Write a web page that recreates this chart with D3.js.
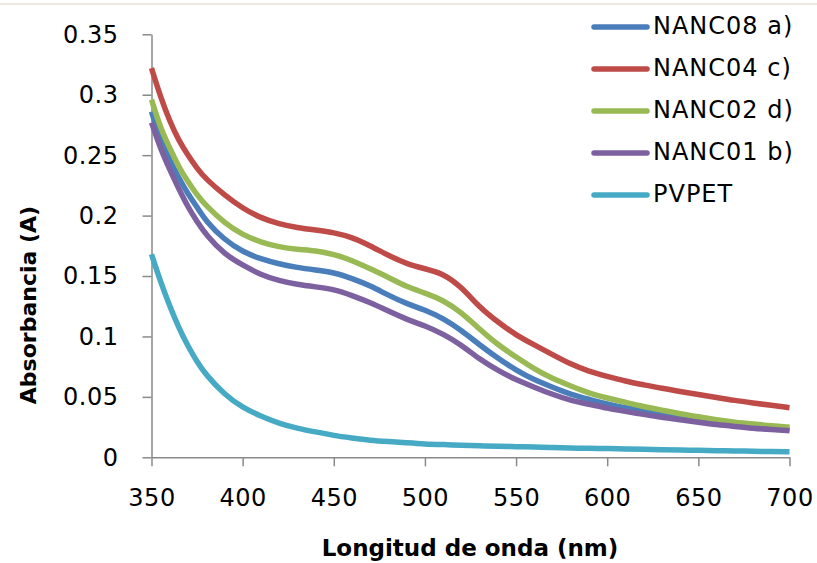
<!DOCTYPE html>
<html>
<head>
<meta charset="utf-8">
<script src="https://cdn.jsdelivr.net/npm/d3@7/dist/d3.min.js"></script>
<style>
  html, body { margin: 0; padding: 0; background: #fff; }
  svg { display: block; }
  text { font-family: "DejaVu Sans", Verdana, sans-serif; fill: #000; }
</style>
</head>
<body>
<svg id="chart" width="817" height="563"></svg>
<script>
const wavelengths = [350,355,360,365,370,375,380,390,400,410,420,430,440,450,460,470,480,490,500,510,520,530,540,550,560,570,580,590,600,610,620,630,640,650,660,670,680,690,700];

const nanc08 = [.286,.262,.246,.231,.218,.207,.195,.180,.170,.164,.160,.157,.155,.153,.148,.142,.134,.127,.122,.115,.105,.093,.082,.072,.064,.058,.052,.048,.044,.041,.038,.0355,.033,.031,.029,.027,.0255,.024,.023];
const nanc04 = [.322,.298,.278,.262,.250,.239,.230,.217,.206,.198,.193,.190,.188,.186,.182,.175,.167,.160,.156,.152,.141,.124,.112,.101,.093,.085,.077,.071,.067,.063,.060,.057,.0545,.052,.0495,.047,.045,.043,.041];
const nanc02 = [.296,.272,.256,.240,.228,.217,.208,.194,.184,.178,.174,.172,.171,.168,.163,.156,.149,.141,.136,.130,.120,.106,.093,.083,.073,.065,.059,.053,.049,.0455,.042,.039,.036,.0335,.031,.029,.0275,.026,.025];
const nanc01 = [.277,.255,.238,.222,.207,.195,.184,.168,.159,.151,.146,.143,.141,.139,.134,.128,.121,.114,.109,.102,.093,.081,.072,.064,.058,.052,.047,.044,.0405,.038,.0355,.033,.031,.029,.027,.0255,.024,.023,.022];
const pvpet  = [.168,.145,.125,.107,.092,.079,.068,.052,.041,.034,.028,.024,.021,.018,.016,.014,.013,.012,.011,.0105,.010,.0095,.009,.0088,.0085,.008,.0077,.0074,.0072,.0069,.0066,.0063,.006,.0058,.0055,.0053,.005,.0048,.0045];

const seriesNames = ["NANC08 a)", "NANC04 c)", "NANC02 d)", "NANC01 b)", "PVPET"];
const seriesValues = [nanc08, nanc04, nanc02, nanc01, pvpet];
const seriesColors = ["#4a7ebb", "#be4b48", "#98b954", "#7d60a0", "#46aac5"];

const xTicks = [350,400,450,500,550,600,650,700];
const yTicks = [0,0.05,0.1,0.15,0.2,0.25,0.3,0.35];
const yTickLabels = ["0","0.05","0.1","0.15","0.2","0.25","0.3","0.35"];

const xTitle = "Longitud de onda (nm)";
const yTitle = "Absorbancia (A)";

const svg = d3.select("#chart");

// thin top border
svg.append("rect").attr("x", 0).attr("y", 3).attr("width", 817).attr("height", 2).attr("fill", "#ece9e1");

const x = d3.scaleLinear().domain([350, 700]).range([151.5, 789.5]);
const y = d3.scaleLinear().domain([0, 0.35]).range([457.3, 34.3]);

const axisColor = "#8a8a8a";

const gx = svg.append("g").attr("transform", `translate(0,${y(0)})`)
  .call(d3.axisBottom(x).tickValues(xTicks).tickSize(9).tickSizeOuter(0).tickFormat(d3.format("d")));
const gy = svg.append("g").attr("transform", `translate(${x(350)},0)`)
  .call(d3.axisLeft(y).tickValues(yTicks).tickSize(9).tickSizeOuter(0).tickFormat((d, i) => yTickLabels[i]));

[gx, gy].forEach(g => {
  g.select(".domain").attr("stroke", axisColor).attr("stroke-width", 1.5);
  g.selectAll(".tick line").attr("stroke", axisColor).attr("stroke-width", 1.5);
  g.selectAll(".tick text").attr("font-size", 24).attr("font-family", "DejaVu Sans")
    .attr("fill", "#000").style("letter-spacing", "0.5px");
});
gx.selectAll(".tick text").attr("y", 0).attr("dy", 0).attr("transform", "translate(0,49)");
gy.selectAll(".tick text").attr("x", -33).attr("dy", "0.33em");

const line = d3.line()
  .x((d, i) => x(wavelengths[i]))
  .y(d => y(d))
  .curve(d3.curveBasis);

const plot = svg.append("g");
seriesValues.forEach((vals, k) => {
  plot.append("path")
    .datum(vals)
    .attr("d", line)
    .attr("fill", "none")
    .attr("stroke", seriesColors[k])
    .attr("stroke-width", 5.5)
    .attr("stroke-linejoin", "round");
});

// legend
const legend = svg.append("g");
seriesNames.forEach((name, k) => {
  const cy = 27 + k * 42;
  legend.append("line")
    .attr("x1", 594).attr("x2", 647).attr("y1", cy).attr("y2", cy)
    .attr("stroke", seriesColors[k]).attr("stroke-width", 5.5).attr("stroke-linecap", "round");
  legend.append("text")
    .attr("x", 653).attr("y", cy + 7)
    .attr("font-size", 24)
    .style("letter-spacing", "1px")
    .text(name);
});

// axis titles
svg.append("text")
  .attr("x", 470).attr("y", 556)
  .attr("text-anchor", "middle")
  .attr("font-size", 23).attr("font-weight", "bold")
  .text(xTitle);

svg.append("text")
  .attr("transform", "translate(36,305) rotate(-90)")
  .attr("text-anchor", "middle")
  .attr("font-size", 22).attr("font-weight", "bold")
  .text(yTitle);
</script>
</body>
</html>
